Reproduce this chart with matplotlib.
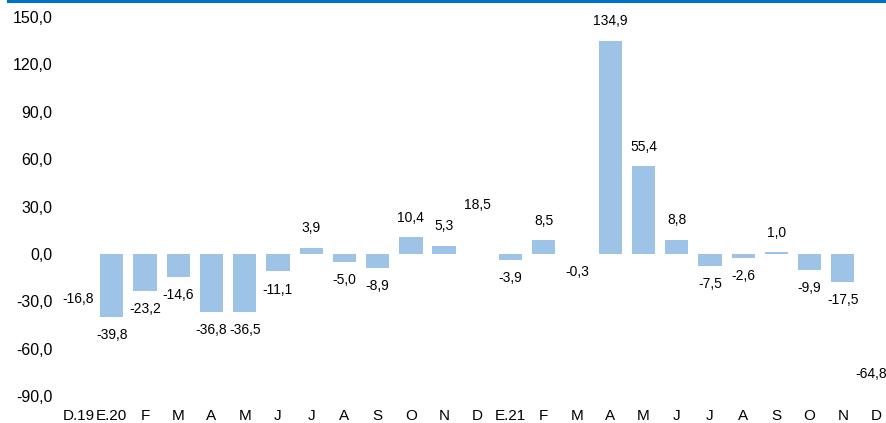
import matplotlib.pyplot as plt
from matplotlib.lines import Line2D

categories = ["D.19", "E.20", "F", "M", "A", "M", "J", "J", "A", "S", "O", "N",
              "D", "E.21", "F", "M", "A", "M", "J", "J", "A", "S", "O", "N", "D"]
values = [-16.8, -39.8, -23.2, -14.6, -36.8, -36.5, -11.1, 3.9, -5.0, -8.9, 10.4, 5.3,
          18.5, -3.9, 8.5, -0.3, 134.9, 55.4, 8.8, -7.5, -2.6, 1.0, -9.9, -17.5, -64.8]
y_ticks = [-90, -60, -30, 0, 30, 60, 90, 120, 150]

plt.rcParams["font.family"] = ["Liberation Sans", "DejaVu Sans"]

fig = plt.figure(figsize=(8.86, 4.23), dpi=100)
ax = fig.add_axes([62 / 886, 27 / 423, 824 / 886, 379 / 423])

x = list(range(len(categories)))
# December bars are not shown in the original (drawn in white)
colors = ["white" if c.startswith("D") else "#9DC3E6" for c in categories]
ax.bar(x, values, width=0.7, color=colors, edgecolor="none")

for xi, v in zip(x, values):
    label = f"{v:.1f}".replace(".", ",")
    last = xi == len(values) - 1
    ha = "right" if last else "center"
    dx = 8 if last else 0
    if v >= 0:
        ax.annotate(label, (xi, v), xytext=(dx, 9), textcoords="offset points",
                    ha=ha, va="bottom", fontsize=10)
    else:
        ax.annotate(label, (xi, v), xytext=(dx, -8), textcoords="offset points",
                    ha=ha, va="top", fontsize=10)

ax.set_ylim(-90, 150)
ax.set_xlim(-0.5, 24.3)
ax.set_yticks(y_ticks)
ax.set_yticklabels([f"{t:.1f}".replace(".", ",") for t in y_ticks], fontsize=11.5)
ax.set_xticks(x)
ax.set_xticklabels(categories, fontsize=11)
ax.tick_params(axis="both", length=0)
ax.tick_params(axis="y", pad=7)
ax.tick_params(axis="x", pad=9)
for s in ax.spines.values():
    s.set_visible(False)

# blue rule at top
fig.add_artist(Line2D([0.01, 1.0], [0.997, 0.997], transform=fig.transFigure,
                      color="#0070C0", linewidth=3))

fig.savefig("out.png", dpi=100)
